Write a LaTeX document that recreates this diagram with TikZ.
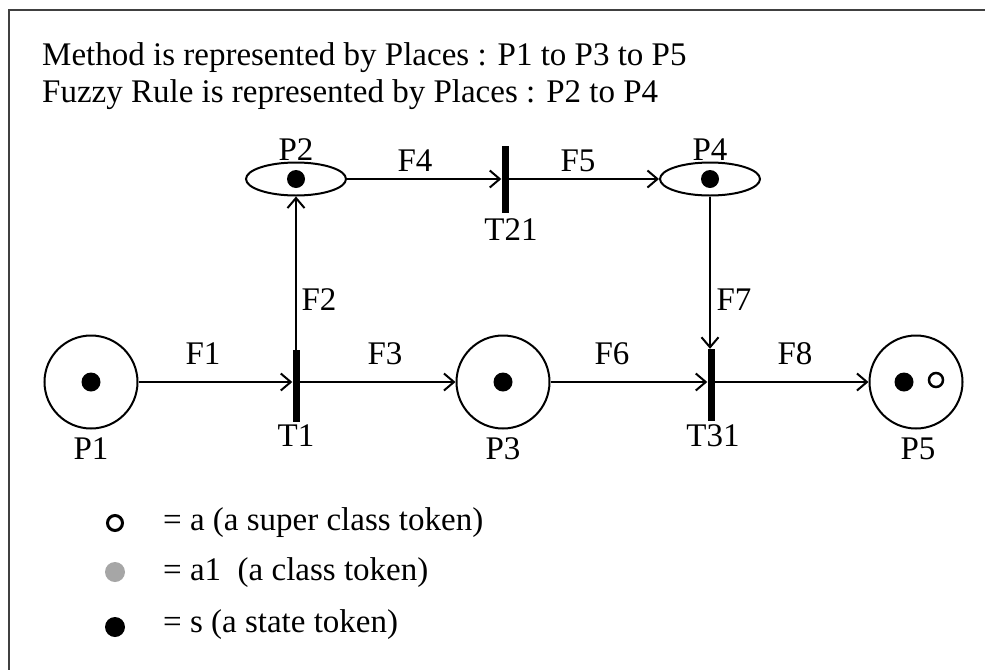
\documentclass[tikz,border=0pt]{standalone}
\usepackage{fontspec}
\setmainfont{Liberation Serif}
\usetikzlibrary{arrows.meta,shapes.geometric}
\tikzset{
  place/.style={circle,draw,line width=2pt,minimum size=93pt,inner sep=0pt},
  eplace/.style={ellipse,draw,line width=2pt,minimum width=100pt,minimum height=33pt,inner sep=0pt},
  trans/.style={rectangle,fill=black,minimum width=7pt,inner sep=0pt},
  tok/.style={circle,fill=black,minimum size=19pt,inner sep=0pt},
  wtok/.style={circle,draw,line width=2.5pt,fill=white,minimum size=14pt,inner sep=0pt},
  gtok/.style={circle,fill=black!35,minimum size=20pt,inner sep=0pt},
  arc/.style={line width=2pt,-{Straight Barb[length=10pt,width=17pt]}},
  lbl/.style={anchor=base,inner sep=0pt,font=\fontsize{33}{40}\selectfont},
  txt/.style={anchor=base west,inner sep=0pt,font=\fontsize{33}{40}\selectfont}
}
\begin{document}
\begin{tikzpicture}[x=1pt,y=-1pt]
\useasboundingbox (0,0) rectangle (985,670);
\fill[white] (0,0) rectangle (985,670);
% frame
\draw[line width=2.5pt,black!75] (985,10) -- (9,10) -- (9,670);
% title
\node[txt] (title1) at (42,65) {Method is represented by Places : P1 to P3 to P5};
\node[txt] (title2) at (42,102) {Fuzzy Rule is represented by Places : P2 to P4};
% places
\node[place] (P1) at (91,382) {};
\node[place] (P3) at (503,382) {};
\node[place] (P5) at (916,382) {};
\node[eplace] (P2) at (296,179) {};
\node[eplace] (P4) at (710,179) {};
% transitions
\node[trans,minimum height=72pt] (T1) at (296,386) {};
\node[trans,minimum height=72pt] (T31) at (711,385) {};
\node[trans,minimum height=67pt] (T21) at (505,179) {};
% tokens
\node[tok] (k1) at (P1) {};
\node[tok] (k3) at (P3) {};
\node[tok,minimum size=18pt] (k2) at (P2) {};
\node[tok,minimum size=18pt] (k4) at (P4) {};
\node[tok] (k5) at (904,382) {};
\node[wtok] (w5) at (936,380) {};
% arcs
\draw[arc] (P1.east) -- (P1.east -| T1.west);
\draw[arc] (T1.east |- P3.west) -- (P3.west);
\draw[arc] (T1.north) -- (P2.south);
\draw[arc] (P2.east) -- (P2.east -| T21.west);
\draw[arc] (T21.east |- P4.west) -- (P4.west);
\draw[arc] (P4.south) -- (P4.south |- T31.north);
\draw[arc] (P3.east) -- (P3.east -| T31.west);
\draw[arc] (T31.east |- P5.west) -- (P5.west);
% place / transition labels
\node[lbl] (lP1) at (91,459) {P1};
\node[lbl] (lP3) at (503,459) {P3};
\node[lbl] (lP5) at (918,459) {P5};
\node[lbl] (lP2) at (296,160) {P2};
\node[lbl] (lP4) at (710,160) {P4};
\node[lbl] (lT1) at (296,446) {T1};
\node[lbl] (lT31) at (713,446) {T31};
\node[lbl] (lT21) at (511,240) {T21};
% arc labels
\node[lbl] (F1) at (203,364) {F1};
\node[lbl] (F3) at (385,364) {F3};
\node[lbl] (F6) at (612,364) {F6};
\node[lbl] (F8) at (795,364) {F8};
\node[lbl] (F4) at (415,171) {F4};
\node[lbl] (F5) at (578,171) {F5};
\node[lbl] (F2) at (319,310) {F2};
\node[lbl] (F7) at (734,310) {F7};
% legend
\node[wtok,minimum size=15pt,line width=3pt] (La) at (115,523) {};
\node[gtok] (Lb) at (115,572) {};
\node[tok,minimum size=20pt] (Lc) at (115,627) {};
\node[txt] (ta) at (163,530) {= a (a super class token)};
\node[txt] (tb) at (163,580) {= a1\ \ (a class token)};
\node[txt] (tc) at (163,632) {= s (a state token)};
\end{tikzpicture}
\end{document}
